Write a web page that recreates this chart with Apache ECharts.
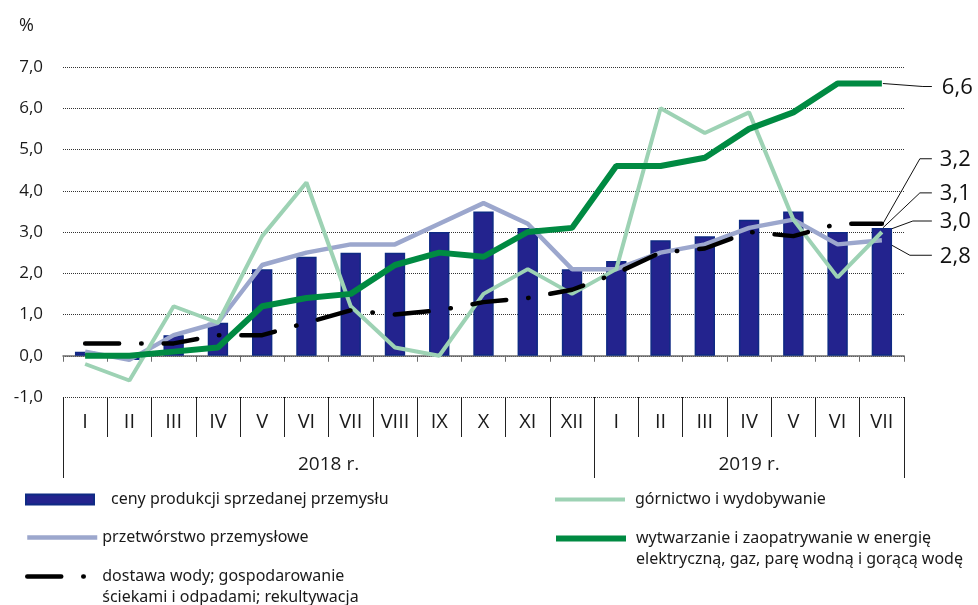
<!DOCTYPE html>
<html>
<head>
<meta charset="utf-8">
<script src="https://cdn.jsdelivr.net/npm/echarts@6/dist/echarts.min.js"></script>
<style>
  html, body { margin: 0; padding: 0; background: #fff; }
  #chart { width: 978px; height: 605px; }
</style>
</head>
<body>
<div id="chart"></div>
<script>
	// kategorie (miesiące) i lata
	var months = ['I','II','III','IV','V','VI','VII','VIII','IX','X','XI','XII','I','II','III','IV','V','VI','VII'];
	var years = ['2018 r.', '2019 r.'];
	var yearBounds = [0, 12, 19];
	var yearCentres = [6, 15.5];

	// dane w %
	var ceny = [0.1,-0.1,0.5,0.8,2.1,2.4,2.5,2.5,3.0,3.5,3.1,2.1,2.3,2.8,2.9,3.3,3.5,3.0,3.1];
	var gornictwo = [-0.2,-0.6,1.2,0.8,2.9,4.2,1.2,0.2,0.0,1.5,2.1,1.5,2.1,6.0,5.4,5.9,3.3,1.9,3.0];
	var przetworstwo = [0.1,-0.1,0.5,0.8,2.2,2.5,2.7,2.7,3.2,3.7,3.2,2.1,2.1,2.5,2.7,3.1,3.3,2.7,2.8];
	var energia = [0.0,0.0,0.1,0.2,1.2,1.4,1.5,2.2,2.5,2.4,3.0,3.1,4.6,4.6,4.8,5.5,5.9,6.6,6.6];
	var woda = [0.3,0.3,0.3,0.5,0.5,0.8,1.1,1.0,1.1,1.3,1.4,1.6,2.0,2.5,2.6,3.0,2.9,3.2,3.2];

	var names = {
		ceny: 'ceny produkcji sprzedanej przemysłu',
		gornictwo: 'górnictwo i wydobywanie',
		przetworstwo: 'przetwórstwo przemysłowe',
		energia: 'wytwarzanie i zaopatrywanie w energię\nelektryczną, gaz, parę wodną i gorącą wodę',
		woda: 'dostawa wody; gospodarowanie\nściekami i odpadami; rekultywacja'
	};

	var last = months.length - 1;
	var endValues = [energia[last], woda[last], ceny[last], gornictwo[last], przetworstwo[last]];
	// etykiety końcowe: przesunięcie w pionie i załamanie linii odniesienia (px)
	var labelShift = [3, -65, -35, -11, 15];
	var labelKnee = [41, 38, 38, 31, 28];

	function fmt(v) { return v.toFixed(1).replace('.', ','); }

	var axisFont = 'Open Sans';
	var legendText = { fontFamily: 'Noto Sans', fontSize: 16, color: '#1a1a1a', lineHeight: 21 };

	function legendItem(name, left, top, extra) {
		var l = {
			data: [name], left: left, top: top, padding: 0,
			itemWidth: 70, itemHeight: 10, selectedMode: false,
			itemStyle: { opacity: 0 },
			lineStyle: { width: 'inherit', type: 'inherit', cap: 'inherit' },
			textStyle: Object.assign({}, legendText)
		};
		return Object.assign(l, extra || {});
	}
	// wiersz pusty na górze, aby pierwsza linia tekstu była na wysokości ikony
	function firstLineAtIcon(name) { return '\n' + name; }

	var myEchart = echarts.init(document.getElementById('chart'));
	var option = {
		animation: false,
		backgroundColor: '#fff',
		title: {
			text: '%', left: 14, top: 12,
			textStyle: { fontFamily: axisFont, fontSize: 18, fontWeight: 'normal', color: '#1a1a1a' }
		},
		grid: { left: 63, right: 74, top: 67, bottom: 208 },
		legend: [
			legendItem(names.ceny, 25, 489, { icon: 'rect', itemWidth: 68, itemStyle: {},
				textStyle: Object.assign({}, legendText, { padding: [0, 0, 0, 12] }) }),
			legendItem(names.przetworstwo, 25, 527),
			legendItem(names.woda, 25, 545, { formatter: firstLineAtIcon }),
			legendItem(names.gornictwo, 553, 489, {
				textStyle: Object.assign({}, legendText, { padding: [0, 0, 0, 5] }) }),
			legendItem(names.energia, 553, 507, { formatter: firstLineAtIcon,
				textStyle: Object.assign({}, legendText, { padding: [0, 0, 0, 5] }) })
		],
		xAxis: [
			{
				type: 'category', data: months, position: 'bottom',
				axisLine: { onZero: true, lineStyle: { color: '#6b6b6b', width: 1.5 } },
				axisTick: { show: true, interval: 0, length: 6, lineStyle: { color: '#6b6b6b' } },
				axisLabel: { show: false }
			},
			{
				type: 'category', data: months, position: 'bottom',
				axisLine: { show: false, onZero: false },
				axisTick: { show: true, interval: 0, length: 40, lineStyle: { color: '#222' } },
				axisLabel: { interval: 0, margin: 15, fontFamily: axisFont, fontSize: 20, color: '#1a1a1a' }
			},
			{
				type: 'value', min: 0, max: 19, position: 'bottom',
				axisLine: { show: false, onZero: false },
				splitLine: { show: false },
				axisTick: { show: true, length: 81, customValues: yearBounds, lineStyle: { color: '#222' } },
				axisLabel: {
					customValues: yearCentres, margin: 58,
					fontFamily: axisFont, fontSize: 19, color: '#1a1a1a',
					formatter: function (v) { return years[yearCentres.indexOf(v)]; }
				}
			}
		],
		yAxis: {
			type: 'value', min: -1, max: 7, interval: 1,
			axisLine: { show: false }, axisTick: { show: false },
			axisLabel: { margin: 20, fontFamily: axisFont, fontSize: 17, color: '#1a1a1a', formatter: fmt },
			splitLine: { lineStyle: { color: '#333', type: 'dotted', width: 1 } }
		},
		series: [
			{
				name: names.ceny, type: 'bar', data: ceny, barWidth: '46%',
				itemStyle: { color: '#23238e', borderColor: '#0f2a84', borderWidth: 1.5 }
			},
			{
				name: names.przetworstwo, type: 'line', data: przetworstwo, symbol: 'none',
				itemStyle: { color: '#9ca7cd' },
				lineStyle: { color: '#9ca7cd', width: 4.5 }
			},
			{
				name: names.gornictwo, type: 'line', data: gornictwo, symbol: 'none',
				itemStyle: { color: '#9dd2b4' },
				lineStyle: { color: '#9dd2b4', width: 4 }
			},
			{
				name: names.energia, type: 'line', data: energia, symbol: 'none',
				itemStyle: { color: '#008a42' },
				lineStyle: { color: '#008a42', width: 6 }
			},
			{
				name: names.woda, type: 'line', data: woda, symbol: 'none',
				itemStyle: { color: '#000' },
				lineStyle: { color: '#000', width: 4.5, type: [34, 22, 0.5, 22], cap: 'round' }
			},
			{
				type: 'custom', clip: false, silent: true,
				data: endValues.map(function (v) { return [last, v]; }),
				renderItem: function (params, api) {
					var i = params.dataIndex;
					var p = api.coord([api.value(0), api.value(1)]);
					var ly = p[1] + labelShift[i];
					var pts = [[p[0] + 1, p[1]], [p[0] + labelKnee[i], ly], [p[0] + 50, ly]];
					return {
						type: 'group',
						children: [
							{ type: 'polyline', shape: { points: pts }, style: { stroke: '#111', lineWidth: 1, fill: null } },
							{ type: 'text', x: p[0] + (i === 0 ? 60 : 58), y: ly + 1,
								style: { text: fmt(api.value(1)), fill: '#111', align: 'left', verticalAlign: 'middle',
									font: '22px "Open Sans"' } }
						]
					};
				}
			}
		]
	};
	myEchart.setOption(option);
</script>
</body>
</html>
